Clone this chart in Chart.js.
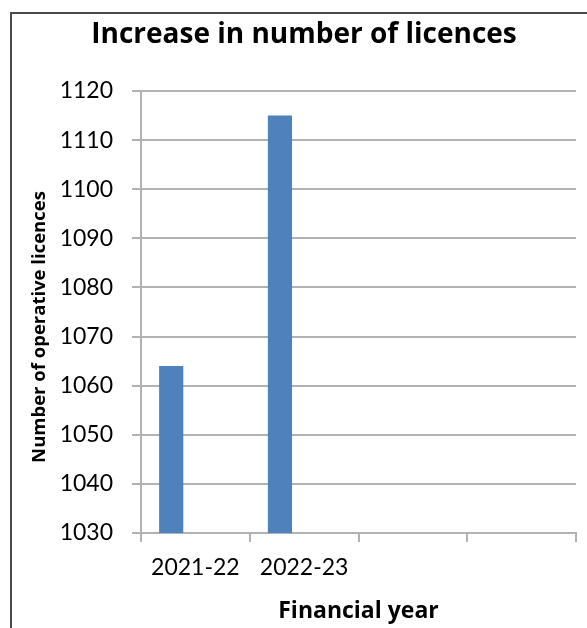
<!DOCTYPE html>
<html>
<head>
<meta charset="utf-8">
<script src="https://cdn.jsdelivr.net/npm/chart.js@4/dist/chart.umd.min.js"></script>
<style>
  html, body { margin: 0; padding: 0; background: #fff; overflow: hidden; }
  #wrap { position: absolute; left: 0; top: 0; width: 587px; height: 628px; }
  #frame { position: absolute; left: 10px; top: 12px; width: 620px; height: 660px;
           border: 2px solid #4a4a4a; box-sizing: border-box; pointer-events: none; }
</style>
</head>
<body>
<div id="wrap"><canvas id="c" width="587" height="628"></canvas></div>
<div id="frame"></div>
<script>
// ---- data ----
const categories = ['2021-22', '2022-23', '', ''];
const licences = [1064, 1115, null, null];
const seriesB = [null, null, null, null];
const seriesC = [null, null, null, null];
const yMin = 1030, yMax = 1120, yStep = 10;
const chartTitle = 'Increase in number of licences';
const xTitle = 'Financial year';
const yTitle = 'Number of operative licences';

const FONT = 'Lato, "Open Sans", sans-serif';
const BOLD = '"Open Sans", Lato, sans-serif';
const GRID = '#b2b2b2';

const yTitlePlugin = {
  id: 'yTitle',
  afterDraw(chart) {
    const ctx = chart.ctx;
    const a = chart.chartArea;
    ctx.save();
    ctx.translate(40, (a.top + a.bottom) / 2 + 15);
    ctx.rotate(-Math.PI / 2);
    ctx.font = 'bold 18.5px ' + BOLD;
    ctx.fillStyle = '#000';
    ctx.textAlign = 'center';
    ctx.textBaseline = 'middle';
    ctx.fillText(yTitle, 0, 0);
    ctx.restore();
  }
};

new Chart(document.getElementById('c'), {
  type: 'bar',
  data: {
    labels: categories,
    datasets: [
      { data: licences, backgroundColor: '#4f81bd', borderWidth: 0 },
      { data: seriesB, backgroundColor: '#c0504d', borderWidth: 0 },
      { data: seriesC, backgroundColor: '#9bbb59', borderWidth: 0 }
    ]
  },
  options: {
    responsive: false,
    animation: false,
    events: [],
    layout: { padding: { left: 32, right: 11, top: 0, bottom: 0 } },
    datasets: { bar: { categoryPercentage: 0.667, barPercentage: 1.0 } },
    plugins: {
      legend: { display: false },
      tooltip: { enabled: false },
      title: {
        display: true, text: chartTitle, color: '#000',
        font: { family: BOLD, size: 28, weight: 'bold', lineHeight: 1.2 },
        padding: { top: 18, bottom: 39.4 }
      }
    },
    scales: {
      x: {
        grid: { display: true, drawOnChartArea: false, offset: true, tickLength: 9, color: GRID, lineWidth: 2 },
        border: { color: GRID, width: 2 },
        ticks: { font: { family: FONT, size: 23 }, color: '#000', padding: 12, autoSkip: false, maxRotation: 0 },
        title: { display: true, text: xTitle, color: '#000',
                 font: { family: BOLD, size: 23, weight: 'bold' }, padding: { top: 0, bottom: 3 } },
        afterFit(s) { s.height = 95; }
      },
      y: {
        min: yMin, max: yMax,
        ticks: { stepSize: yStep, font: { family: FONT, size: 23 }, color: '#000', padding: 19,
                 callback: (v) => String(v) },
        grid: { color: GRID, lineWidth: 2, tickLength: 9 },
        border: { color: GRID, width: 2 },
        afterFit(s) { s.width = 109; }
      }
    }
  },
  plugins: [yTitlePlugin]
});
</script>
</body>
</html>
